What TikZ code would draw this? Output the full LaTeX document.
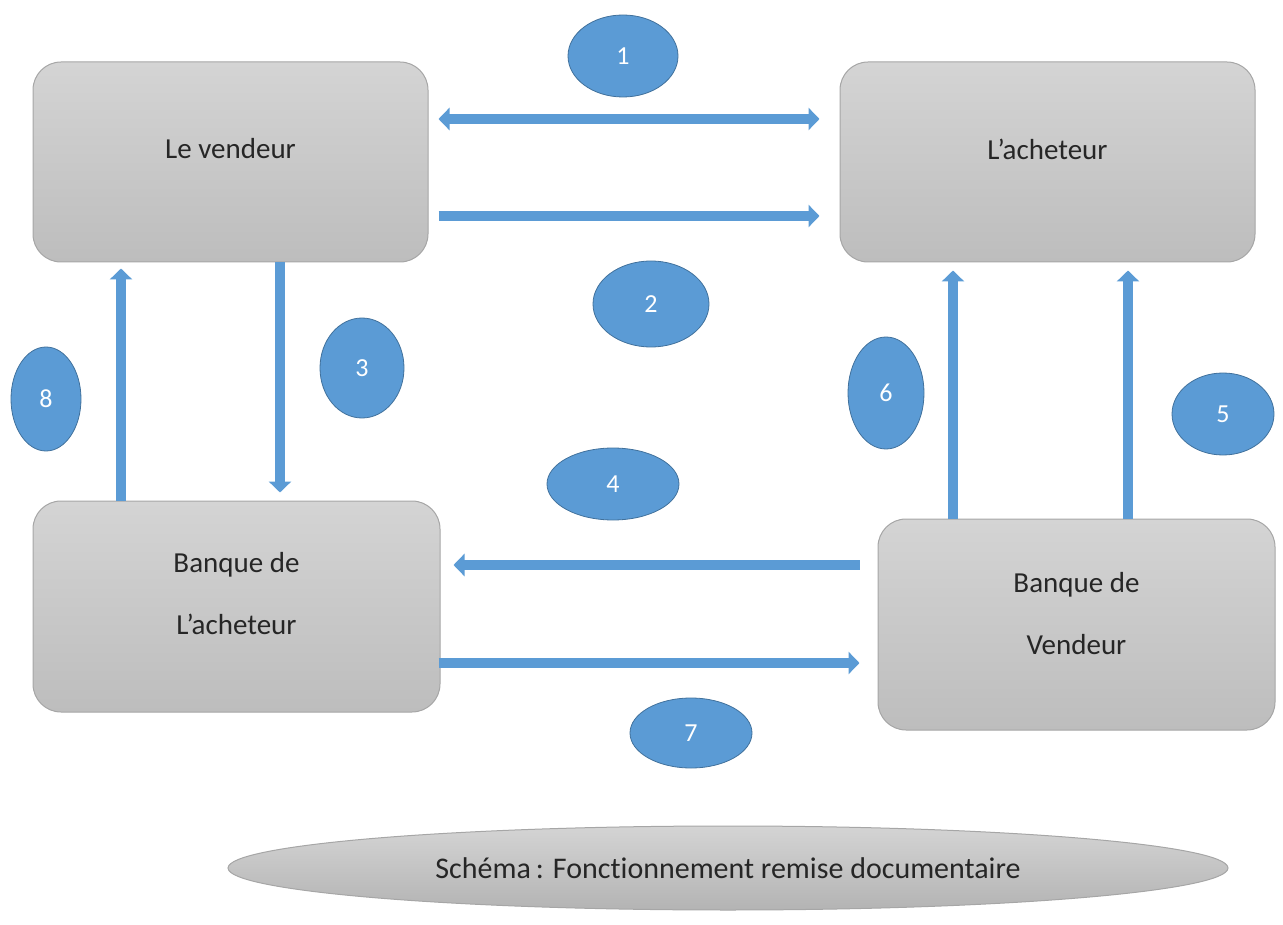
\documentclass[tikz,border=0pt]{standalone}
\usepackage{fontspec}
\setmainfont{Carlito}[Ligatures=NoCommon]
\usetikzlibrary{arrows.meta,shapes.geometric}

\definecolor{stepblue}{HTML}{5B9BD5}
\definecolor{stepedge}{HTML}{41719C}
\definecolor{boxtop}{HTML}{D4D4D4}
\definecolor{boxbot}{HTML}{BDBDBD}
\definecolor{boxedge}{HTML}{A6A6A6}

\tikzset{
  card/.style={draw=boxedge, line width=1pt, rounded corners=28pt,
    top color=boxtop, bottom color=boxbot, inner sep=0pt},
  cardtext/.style={font=\fontsize{29}{62}\selectfont, align=center, text=black!85},
  badge/.style={ellipse, draw=stepedge, line width=0.8pt, fill=stepblue,
    text=white, font=\fontsize{26}{30}\selectfont, inner sep=0pt},
  flow/.style={draw=stepblue, line width=10pt,
    -{Triangle[width=22pt,length=11pt]}},
  flowboth/.style={draw=stepblue, line width=10pt,
    {Triangle[width=22pt,length=11pt]}-{Triangle[width=22pt,length=11pt]}},
}

\begin{document}
\begin{tikzpicture}[x=1pt,y=-1pt]
\useasboundingbox (0,0) rectangle (1283,925);

% parties and banks
\node[card, minimum width=395pt, minimum height=200pt,
  label={[cardtext, yshift=13pt]center:Le vendeur}] (seller) at (230.5,162) {};
\node[card, minimum width=415pt, minimum height=200pt,
  label={[cardtext, yshift=13pt]center:L’acheteur}] (buyer) at (1047.5,162) {};
\node[card, minimum width=407pt, minimum height=211pt,
  label={[cardtext, yshift=12.5pt]center:Banque de\\L’acheteur}] (bbank) at (236.5,606.5) {};
\node[card, minimum width=397pt, minimum height=211pt,
  label={[cardtext, yshift=10.5pt]center:Banque de\\Vendeur}] (sbank) at (1076.5,624.5) {};

% flows between the boxes
\draw[flowboth] ([xshift=10pt,yshift=43pt]seller.east) -- ([xshift=-20pt,yshift=43pt]buyer.west);
\draw[flow] ([xshift=10pt,yshift=-54pt]seller.east) -- ([xshift=-20pt,yshift=-54pt]buyer.west);
\draw[flow] ([xshift=49.5pt]seller.south) -- ([xshift=43.5pt,yshift=8pt]bbank.north);
\draw[flow] ([xshift=-115.5pt]bbank.north) -- ([xshift=-109.5pt,yshift=-6pt]seller.south);
\draw[flow] ([xshift=-18pt,yshift=59.5pt]sbank.west) -- ([xshift=13pt,yshift=41.5pt]bbank.east);
\draw[flow] ([xshift=-2pt,yshift=-56.5pt]bbank.east) -- ([xshift=-18pt,yshift=-38.5pt]sbank.west);
\draw[flow] ([xshift=-123.5pt]sbank.north) -- ([xshift=-94.5pt,yshift=-8pt]buyer.south);
\draw[flow] ([xshift=51.5pt]sbank.north) -- ([xshift=80.5pt,yshift=-8pt]buyer.south);

% step numbers
\node[badge, minimum width=110pt, minimum height=82pt] (n1) at (623,56) {1};
\node[badge, minimum width=116pt, minimum height=86pt] (n2) at (651,304) {2};
\node[badge, minimum width=84pt, minimum height=100pt] (n3) at (362,368) {3};
\node[badge, minimum width=132pt, minimum height=72pt] (n4) at (613,484) {4};
\node[badge, minimum width=102pt, minimum height=82pt] (n5) at (1223,414) {5};
\node[badge, minimum width=76pt, minimum height=112pt] (n6) at (886,393) {6};
\node[badge, minimum width=122pt, minimum height=70pt] (n7) at (691,733) {7};
\node[badge, minimum width=70pt, minimum height=104pt] (n8) at (46,399) {8};

% caption
\node[ellipse, draw=boxedge, line width=1pt, top color=boxtop, bottom color=boxbot!95!black,
  minimum width=1000pt, minimum height=84pt, inner sep=0pt,
  font=\fontsize{30}{34}\selectfont, text=black!85] (caption) at (728,868)
  {Schéma\,: Fonctionnement remise documentaire};
\end{tikzpicture}
\end{document}
